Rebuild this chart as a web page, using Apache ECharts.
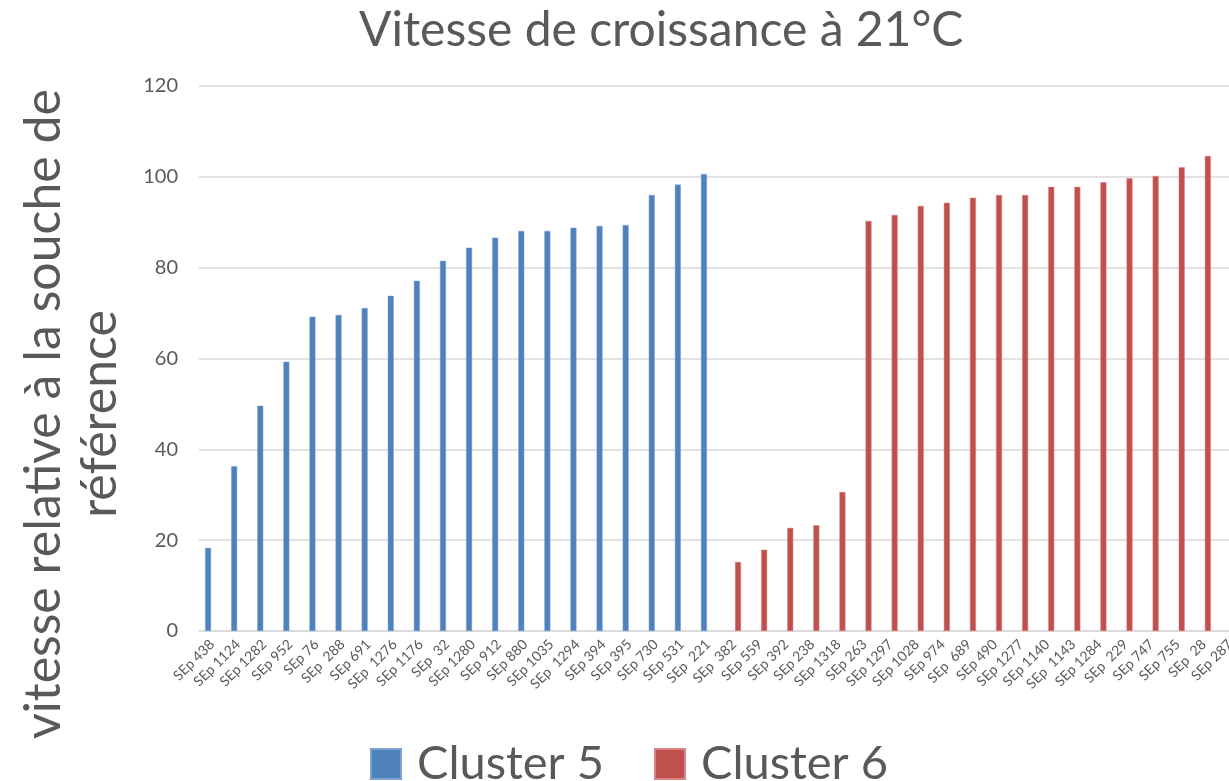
<!DOCTYPE html>
<html>
<head>
<meta charset="utf-8">
<script src="https://cdn.jsdelivr.net/npm/echarts@6/dist/echarts.min.js"></script>
<style>
  html, body { margin: 0; padding: 0; background: #fff; }
  #chart { width: 1229px; height: 781px; }
</style>
</head>
<body>
<div id="chart"></div>
<script>
// Cluster 5 (bleu)
var cat5 = ['SEp 438', 'SEp 1124', 'SEp 1282', 'SEp 952', 'SEp 76', 'SEp  288', 'SEp 691', 'SEp  1276', 'SEp 1176', 'SEp  32',
            'SEp 1280', 'SEp 912', 'SEp 880', 'SEp 1035', 'SEp  1294', 'SEp 394', 'SEp 395', 'SEp 730', 'SEp 531', 'SEp  221'];
var val5 = [18.3, 36.3, 49.6, 59.3, 69.2, 69.6, 71.1, 73.8, 77.1, 81.5,
            84.4, 86.6, 88.1, 88.1, 88.8, 89.2, 89.4, 96.0, 98.3, 100.6];
// Cluster 6 (rouge)
var cat6 = ['SEp  382', 'SEp 559', 'SEp 392', 'SEp 238', 'SEp 1318', 'SEp 263', 'SEp 1297', 'SEp 1028', 'SEp 974', 'SEp  689',
            'SEp 490', 'SEp 1277', 'SEp 1140', 'SEp  1143', 'SEp 1284', 'SEp  229', 'SEp 747', 'SEp 755', 'SEp  28', 'SEp 287'];
var val6 = [15.2, 17.9, 22.7, 23.3, 30.6, 90.3, 91.6, 93.6, 94.3, 95.4,
            96.0, 96.0, 97.8, 97.8, 98.8, 99.7, 100.2, 102.1, 104.6, 106.0];

var yTicks = [0, 20, 40, 60, 80, 100, 120];

var categories = cat5.concat(cat6);
var serie5 = val5.concat(cat6.map(function () { return null; }));
var serie6 = cat5.map(function () { return null; }).concat(val6);

var font = 'Lato, "Open Sans", sans-serif';
var grey = '#595959';

var myChart = echarts.init(document.getElementById('chart'));
myChart.setOption({
  backgroundColor: '#fff',
  animation: false,
  textStyle: { fontFamily: font },
  title: {
    text: 'Vitesse de croissance à 21°C',
    left: 354,
    top: 2,
    textStyle: { fontFamily: font, fontSize: 48, fontWeight: 'normal', color: grey }
  },
  // titre de l'axe Y (deux lignes, décalé vers le bas comme l'original)
  graphic: [{
    type: 'text',
    x: 72,
    y: 414,
    rotation: Math.PI / 2,
    style: {
      text: 'vitesse relative à la souche de\nréférence',
      font: '50px ' + font,
      fill: grey,
      align: 'center',
      verticalAlign: 'middle',
      lineHeight: 56
    }
  }],
  legend: {
    data: ['Cluster 5', 'Cluster 6'],
    left: 365,
    top: 731,
    icon: 'rect',
    itemWidth: 30,
    itemHeight: 30,
    itemGap: 50,
    textStyle: { fontFamily: font, fontSize: 47, color: grey, lineHeight: 56, padding: [0, 0, 0, 11] }
  },
  grid: {
    top: 86,
    left: 199,
    right: -14,
    bottom: 150,
    containLabel: false,
    outerBoundsMode: 'none'
  },
  xAxis: {
    type: 'category',
    data: categories,
    axisLine: { show: true, lineStyle: { color: '#d9d9d9', width: 1.5 } },
    axisTick: { show: false },
    axisLabel: {
      interval: 0,
      rotate: 45,
      margin: 11,
      fontSize: 14,
      color: grey,
      fontFamily: font
    }
  },
  yAxis: {
    type: 'value',
    min: yTicks[0],
    max: yTicks[yTicks.length - 1],
    interval: 20,
    axisLine: { show: false },
    axisTick: { show: false },
    axisLabel: { fontSize: 20, color: grey, margin: 21, fontFamily: font },
    splitLine: { lineStyle: { color: '#d9d9d9', width: 1.5 } }
  },
  series: [
    {
      name: 'Cluster 5',
      type: 'bar',
      data: serie5,
      barWidth: 6,
      barGap: '33%',
      itemStyle: { color: '#4f81bd', borderColor: '#7ea3d1', borderWidth: 0.5 }
    },
    {
      name: 'Cluster 6',
      type: 'bar',
      data: serie6,
      barWidth: 6,
      barGap: '33%',
      itemStyle: { color: '#c0504d', borderColor: '#d88583', borderWidth: 0.5 }
    }
  ]
});
</script>
</body>
</html>
